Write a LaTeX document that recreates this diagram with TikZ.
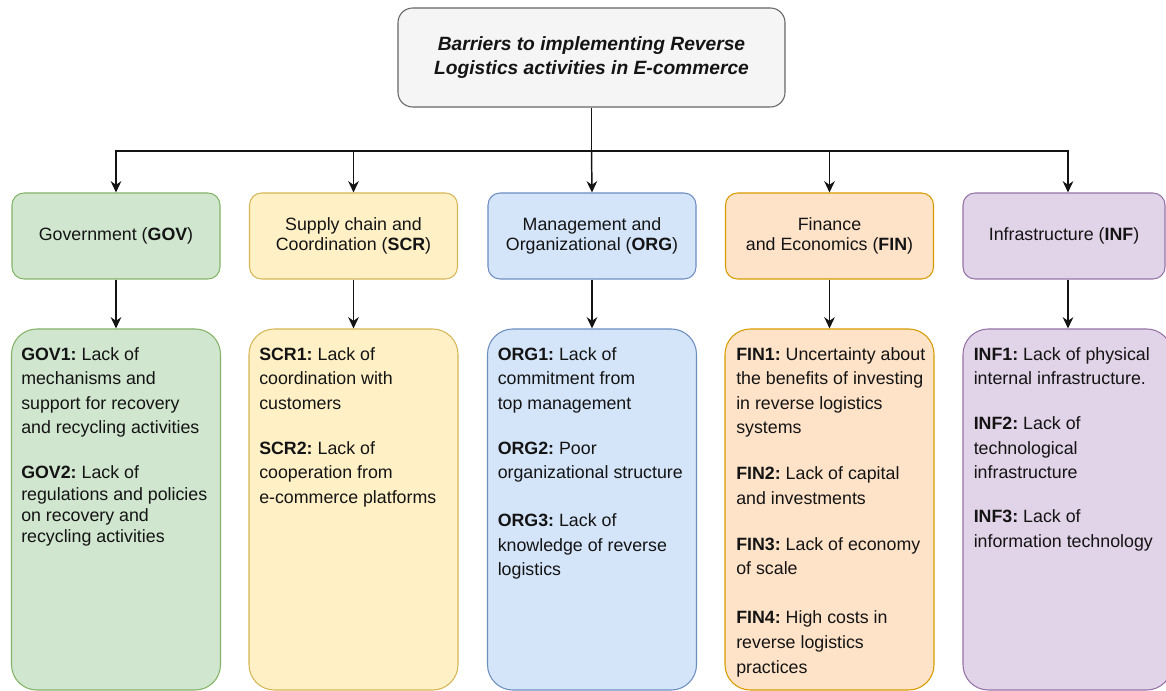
\documentclass[tikz,border=0pt]{standalone}
\usepackage{fontspec}
\setmainfont{Liberation Sans}
\usetikzlibrary{arrows.meta}
\frenchspacing
\definecolor{topF}{HTML}{F5F5F5}\definecolor{topD}{HTML}{666666}
\definecolor{govF}{HTML}{D0E6CF}\definecolor{govD}{HTML}{82B366}
\definecolor{scrF}{HTML}{FFF0C6}\definecolor{scrD}{HTML}{D6B656}
\definecolor{orgF}{HTML}{D4E5FA}\definecolor{orgD}{HTML}{6C8EBF}
\definecolor{finF}{HTML}{FFE3C8}\definecolor{finD}{HTML}{D79B00}
\definecolor{infF}{HTML}{E1D3E8}\definecolor{infD}{HTML}{9673A6}
\definecolor{txt}{HTML}{141414}
\begin{document}
\begin{tikzpicture}[x=0.75pt,y=-0.75pt,
  every node/.style={text=txt},
  conn/.style={draw=txt, line width=1.1pt},
  arr/.style={conn, -{Stealth[length=8.5pt,width=8pt]}},
  topbox/.style={draw=topD, fill=topF, rounded corners=11pt, line width=0.8pt,
    minimum width=290.25pt, minimum height=74.25pt, inner sep=0pt, align=center,
    font=\fontsize{14.4pt}{18pt}\selectfont\bfseries\itshape},
  catbox/.style={rounded corners=9pt, line width=0.8pt, minimum width=156pt,
    minimum height=64.5pt, inner sep=0pt, align=center,
    font=\fontsize{13.35pt}{15pt}\selectfont},
  itembox/.style={rounded corners=19pt, line width=0.8pt, minimum width=156.75pt,
    minimum height=270.75pt, inner sep=0pt},
  itemtext/.style={anchor=north west, inner sep=0pt, align=left,
    font=\fontsize{13.35pt}{18.4pt}\selectfont},
]
\useasboundingbox (0,0) rectangle (1166,691);
\clip (0,0) rectangle (1166,691);

% title
\node[topbox] (top) at (591.5,57.5) {Barriers to implementing Reverse\\Logistics activities in E-commerce};

% categories
\node[catbox, draw=govD, fill=govF] (gov) at (116,236) {Government (\textbf{GOV})};
\node[catbox, draw=scrD, fill=scrF] (scr) at (353.5,236) {Supply chain and\\Coordination (\textbf{SCR})};
\node[catbox, draw=orgD, fill=orgF] (org) at (592,236) {Management and\\Organizational (\textbf{ORG})};
\node[catbox, draw=finD, fill=finF] (fin) at (829.5,236) {Finance\\and Economics (\textbf{FIN})};
\node[catbox, draw=infD, fill=infF, minimum width=151.5pt] (inf) at (1064,236) {Infrastructure (\textbf{INF})};

% item boxes
\node[itembox, draw=govD, fill=govF] (govI) at (116,509.5) {};
\node[itembox, draw=scrD, fill=scrF] (scrI) at (353.5,509.5) {};
\node[itembox, draw=orgD, fill=orgF] (orgI) at (592,509.5) {};
\node[itembox, draw=finD, fill=finF] (finI) at (829.5,509.5) {};
\node[itembox, draw=infD, fill=infF] (infI) at (1067.5,509.5) {};

% item texts
\node[itemtext] (govT) at (21,342.8) {\strut\textbf{GOV1:} Lack of\\mechanisms and\\support for recovery\\and recycling activities\\[15.4pt]\textbf{GOV2:} Lack of\\[-2.4pt]regulations and policies\\[-2.4pt]on recovery and\\[-2.4pt]recycling activities};
\node[itemtext] (scrT) at (259,342.8) {\strut\textbf{SCR1:} Lack of\\coordination with\\customers\\[15.4pt]\textbf{SCR2:} Lack of\\cooperation from\\e-commerce platforms};
\node[itemtext] (orgT) at (497.5,342.8) {\strut\textbf{ORG1:} Lack of\\commitment from\\top management\\[15.4pt]\textbf{ORG2:} Poor\\organizational structure\\[17.6pt]\textbf{ORG3:} Lack of\\knowledge of reverse\\logistics};
\node[itemtext] (finT) at (736,342.8) {\strut\textbf{FIN1:} Uncertainty about\\the benefits of investing\\in reverse logistics\\systems\\[16.1pt]\textbf{FIN2:} Lack of capital\\and investments\\[16.1pt]\textbf{FIN3:} Lack of economy\\of scale\\[18.4pt]\textbf{FIN4:} High costs in\\reverse logistics\\practices};
\node[itemtext] (infT) at (973.5,342.8) {\strut\textbf{INF1:} Lack of physical\\internal infrastructure.\\[15.4pt]\textbf{INF2:} Lack of\\technological\\infrastructure\\[14.6pt]\textbf{INF3:} Lack of\\information technology};

% bus
\coordinate (busL) at (116,151);
\coordinate (busR) at (1068,151);
\coordinate (busM) at (top.south |- busL);
\draw[arr] (top.south) -- (busM) -- (busL) -- (gov.north);
\draw[arr] (busM) -- (busR) -- (busR |- inf.north);
\draw[arr] (scr.north |- busL) -- (scr.north);
\draw[arr] (busM) -- (org.north);
\draw[arr] (fin.north |- busL) -- (fin.north);

% category to items
\draw[arr] (gov.south) -- (govI.north);
\draw[arr] (scr.south) -- (scrI.north);
\draw[arr] (org.south) -- (orgI.north);
\draw[arr] (fin.south) -- (finI.north);
\draw[arr] (busR |- inf.south) -- (busR |- infI.north);
\end{tikzpicture}
\end{document}
